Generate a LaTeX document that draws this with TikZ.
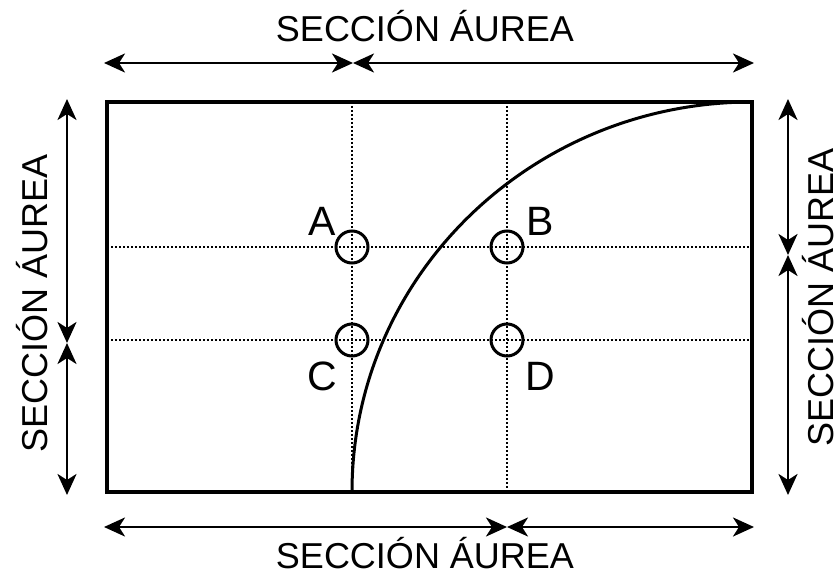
\documentclass[tikz,border=0pt]{standalone}
\usepackage{fontspec}
\setmainfont{Liberation Sans}
\usetikzlibrary{arrows.meta}

\begin{document}
\begin{tikzpicture}[x=1pt, y=-1pt, line width=2.8pt,
    dim/.style={{Stealth[length=21pt,width=19pt,inset=6pt]}-{Stealth[length=21pt,width=19pt,inset=6pt]}},
    grid/.style={line width=2.4pt, dash pattern=on 2pt off 2pt},
    caption/.style={inner sep=0pt, anchor=base, font=\fontsize{36}{40}\selectfont},
    letter/.style={inner sep=0pt, anchor=base, font=\fontsize{41}{44}\selectfont}]
    \useasboundingbox (0, 0) rectangle (840, 580);

    \coordinate (R1) at (107, 492);
    \coordinate (R2) at (107, 102);
    \coordinate (R3) at (752, 102);
    \coordinate (R4) at (752, 492);

    \coordinate (A) at (352, 247);
    \coordinate (B) at (507, 247);
    \coordinate (C) at (352, 340);
    \coordinate (D) at (507, 340);

    \draw[line width=3.4pt] (R1) -- (R2) -- (R3) -- (R4) -- cycle; % frame

    \draw[grid] (352, 102) -- (352, 492); % left third
    \draw[grid] (507, 102) -- (507, 492); % right third
    \draw[grid] (107, 247) -- (752, 247); % upper third
    \draw[grid] (107, 340) -- (752, 340); % lower third

    \draw[line width=3pt] (A) circle (16);
    \draw[line width=3pt] (B) circle (16);
    \draw[line width=3pt] (C) circle (16);
    \draw[line width=3pt] (D) circle (16);

    \node[letter] (la) at (322, 235) {A};
    \node[letter] (lb) at (540, 235) {B};
    \node[letter] (lc) at (322, 390) {C};
    \node[letter] (ld) at (540, 390) {D};

    \draw[line width=3pt] (352, 492) arc (180:270:400 and 390); % spiral

    % top
    \coordinate (T1) at (104, 63);
    \coordinate (T2) at (353, 63);
    \coordinate (T3) at (754, 63);
    \draw[dim] (T1) -- (T2);
    \draw[dim] (T2) -- (T3);
    \node[caption] (tt) at (425, 42) {SECCIÓN ÁUREA};

    % bottom
    \coordinate (U1) at (104, 527);
    \coordinate (U2) at (507, 527);
    \coordinate (U3) at (754, 527);
    \draw[dim] (U1) -- (U2);
    \draw[dim] (U2) -- (U3);
    \node[caption] (tb) at (425, 568) {SECCIÓN ÁUREA};

    % left
    \coordinate (L1) at (67, 99);
    \coordinate (L2) at (67, 343);
    \coordinate (L3) at (67, 495);
    \draw[dim] (L1) -- (L2);
    \draw[dim] (L2) -- (L3);
    \node[caption, rotate=90] (tl) at (47, 303) {SECCIÓN ÁUREA};

    % right
    \coordinate (S1) at (788, 99);
    \coordinate (S2) at (788, 255);
    \coordinate (S3) at (788, 495);
    \draw[dim] (S1) -- (S2);
    \draw[dim] (S2) -- (S3);
    \node[caption, rotate=90] (tr) at (833, 297) {SECCIÓN ÁUREA};

\end{tikzpicture}
\end{document}
